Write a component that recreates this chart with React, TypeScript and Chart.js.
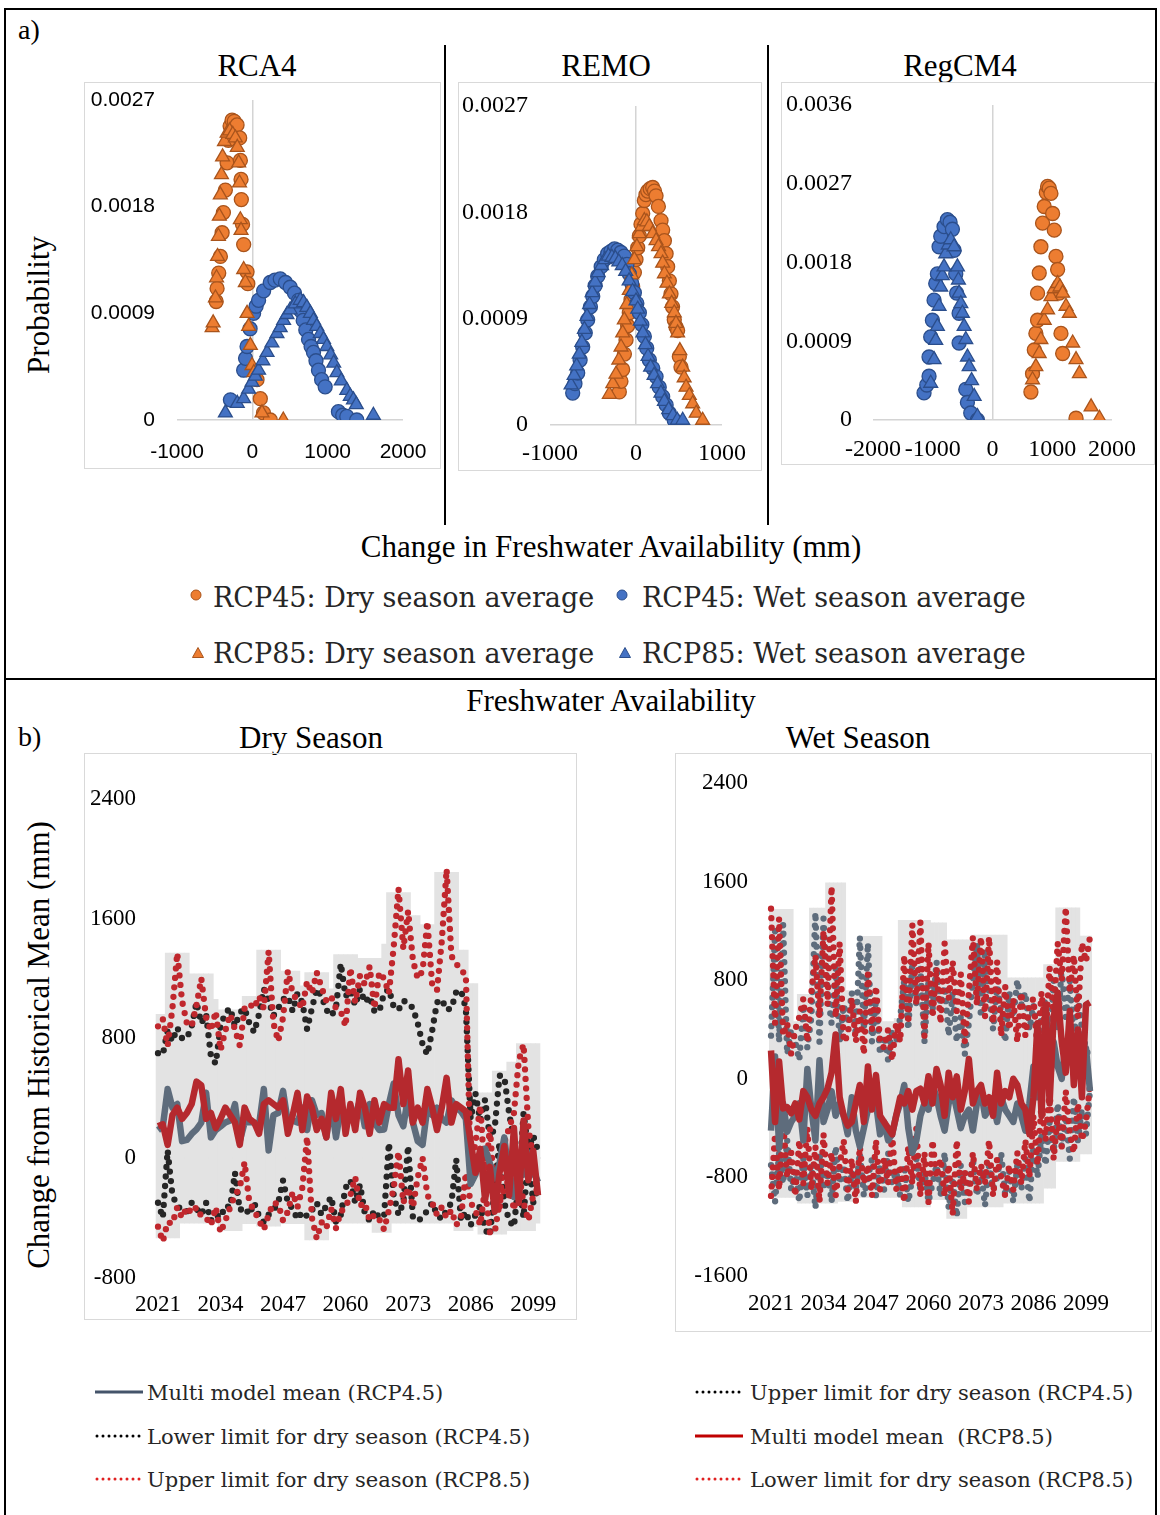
import React, { useEffect, useRef } from 'react';
import { Chart, registerables } from 'chart.js';
Chart.register(...registerables);

const SERIF = '"Liberation Serif", "Times New Roman", serif';
const SANS = '"Liberation Sans", Arial, sans-serif';
const LEG = '"DejaVu Serif", serif';

// ---------- a) probability scatter data: [change (mm), probability] ----------
const rca4Dry45: [number, number][] = [[-480,0.001],[-468,0.00111],[-446,0.00124],[-424,0.00138],[-401,0.00158],[-384,0.00175],[-358,0.00194],[-335,0.00217],[-318,0.00236],[-295,0.00248],[-269,0.00253],[-240,0.00252],[-203,0.00249],[-168,0.00238],[-159,0.00219],[-150,0.00203],[-146,0.00186],[-130,0.00165],[-115,0.00148],[-70,0.00125],[-60,0.00115],[62,0.00034],[106,0.00018],[148,0.00006],[238,0.0]];
const rca4Wet45: [number, number][] = [[-291,0.00017],[-115,0.00042],[-90,0.00052],[-70,0.00062],[-30,0.00077],[17,0.0009],[50,0.00096],[83,0.00101],[150,0.00109],[238,0.00116],[300,0.00118],[371,0.00119],[440,0.00116],[503,0.00112],[560,0.00107],[613,0.00101],[645,0.00092],[675,0.00084],[710,0.00076],[746,0.00068],[780,0.00062],[812,0.00057],[845,0.0005],[878,0.00042],[920,0.00034],[967,0.00028],[1143,0.00007],[1200,0.00004],[1254,0.00003],[1386,0.0]];
const rca4Dry85: [number, number][] = [[-534,0.00078],[-520,0.00082],[-490,0.00103],[-475,0.0012],[-462,0.00138],[-450,0.00155],[-438,0.00172],[-425,0.0019],[-410,0.00207],[-395,0.00222],[-370,0.00235],[-335,0.00242],[-300,0.00244],[-260,0.00241],[-225,0.00238],[-200,0.0023],[-181,0.00217],[-170,0.002],[-159,0.00169],[-150,0.0016],[-115,0.00127],[-93,0.00116],[-70,0.0009],[-49,0.00079],[-26,0.00063],[-4,0.00046],[20,0.0004],[128,0.00006],[411,0.0]];
const rca4Wet85: [number, number][] = [[-358,0.00006],[-200,0.00014],[-115,0.00018],[-50,0.00026],[-4,0.00032],[40,0.00037],[83,0.00042],[140,0.0005],[195,0.00057],[260,0.00065],[327,0.00073],[370,0.00078],[415,0.00084],[460,0.00089],[503,0.00093],[570,0.00098],[636,0.00101],[680,0.00099],[724,0.00095],[770,0.0009],[812,0.00084],[855,0.00079],[901,0.00073],[945,0.00068],[989,0.00062],[1040,0.00055],[1080,0.00048],[1122,0.0004],[1180,0.00033],[1254,0.00025],[1300,0.0002],[1342,0.00017],[1380,0.00013],[1607,0.00004]];

const remoDry45: [number, number][] = [[-194,0.00028],[-175,0.00037],[-155,0.00047],[-135,0.0006],[-116,0.00072],[-97,0.00084],[-78,0.00095],[-58,0.00106],[-39,0.00117],[-19,0.00129],[0,0.0014],[20,0.0015],[39,0.0016],[58,0.0017],[78,0.00179],[97,0.0019],[116,0.00195],[136,0.00198],[165,0.002],[194,0.00201],[215,0.00198],[233,0.00194],[260,0.00185],[291,0.00173],[310,0.00165],[330,0.00156],[350,0.00145],[368,0.00134],[388,0.00122],[407,0.00111],[425,0.001],[445,0.00089],[465,0.00083],[484,0.0008],[504,0.00058],[523,0.00049]];
const remoWet45: [number, number][] = [[-736,0.00027],[-710,0.00035],[-678,0.00044],[-650,0.00055],[-620,0.00066],[-590,0.00078],[-562,0.00089],[-530,0.001],[-503,0.00109],[-475,0.00118],[-445,0.00126],[-405,0.00134],[-368,0.0014],[-330,0.00145],[-291,0.00147],[-250,0.00149],[-213,0.00148],[-175,0.00146],[-136,0.00143],[-105,0.00136],[-78,0.00128],[-50,0.0012],[-19,0.00112],[10,0.00103],[39,0.00095],[68,0.00085],[97,0.00075],[125,0.00065],[155,0.00055],[195,0.00048],[233,0.00041],[270,0.00032],[310,0.00024],[350,0.00017],[388,0.0001],[445,0.00004]];
const remoDry85: [number, number][] = [[-310,0.00026],[-270,0.00035],[-233,0.00043],[-200,0.00055],[-174,0.00066],[-155,0.00078],[-136,0.00089],[-107,0.00102],[-78,0.00114],[-50,0.00127],[-19,0.0014],[10,0.00151],[39,0.00162],[68,0.00168],[97,0.00173],[126,0.00172],[155,0.00168],[194,0.00162],[233,0.00156],[262,0.00151],[291,0.00145],[310,0.00137],[330,0.00128],[360,0.0012],[388,0.00111],[415,0.00103],[445,0.00095],[465,0.00086],[484,0.00078],[510,0.00063],[543,0.00049],[560,0.0004],[582,0.00032],[620,0.00025],[659,0.00018],[700,0.0001],[775,0.00004]];
const remoWet85: [number, number][] = [[-755,0.00034],[-720,0.00042],[-690,0.0005],[-660,0.0006],[-630,0.0007],[-600,0.00081],[-570,0.00092],[-540,0.00102],[-510,0.00112],[-475,0.00121],[-440,0.00129],[-400,0.00135],[-360,0.0014],[-320,0.00143],[-280,0.00142],[-240,0.00141],[-200,0.00138],[-160,0.00135],[-120,0.0013],[-80,0.00122],[-40,0.00113],[0,0.00105],[20,0.00098],[50,0.00088],[80,0.00078],[110,0.00068],[140,0.00058],[170,0.00049],[210,0.00042],[250,0.00035],[290,0.00027],[330,0.0002],[380,0.00013],[430,0.00008],[480,0.00004],[543,0.00004]];

const regDry45: [number, number][] = [[643,0.00032],[670,0.00053],[700,0.0008],[726,0.00099],[754,0.00114],[754,0.00145],[782,0.00168],[810,0.00198],[838,0.00225],[866,0.00244],[900,0.0026],[922,0.00267],[950,0.00265],[978,0.00259],[1006,0.00236],[1034,0.00217],[1062,0.00187],[1090,0.00172],[1118,0.00145],[1146,0.00099],[1174,0.00076],[1398,0.00002]];
const regWet45: [number, number][] = [[-1146,0.00031],[-1100,0.0004],[-1062,0.0005],[-1062,0.00072],[-1034,0.00095],[-1006,0.00114],[-978,0.00137],[-950,0.00156],[-922,0.00167],[-894,0.00198],[-866,0.0021],[-811,0.00221],[-755,0.00229],[-710,0.00226],[-671,0.00218],[-643,0.00194],[-615,0.00167],[-600,0.00145],[-559,0.00122],[-559,0.00088],[-447,0.00035],[-420,0.0002],[-364,0.00008],[-252,0.0]];
const regDry85: [number, number][] = [[670,0.00046],[726,0.00061],[782,0.00076],[810,0.00092],[866,0.00114],[922,0.00126],[978,0.00141],[1034,0.0015],[1090,0.00156],[1130,0.00152],[1174,0.00145],[1230,0.0013],[1286,0.00122],[1342,0.00088],[1398,0.00069],[1454,0.00053],[1650,0.00015],[1790,0.00002]];
const regWet85: [number, number][] = [[-1034,0.00042],[-978,0.00069],[-950,0.00091],[-922,0.00107],[-894,0.0013],[-866,0.00152],[-840,0.00165],[-811,0.00175],[-783,0.0019],[-740,0.002],[-699,0.00206],[-643,0.00198],[-587,0.00175],[-570,0.0016],[-559,0.00145],[-530,0.00133],[-503,0.00122],[-475,0.00107],[-447,0.00092],[-419,0.00072],[-391,0.00061],[-350,0.00045],[-307,0.00027],[-252,0.00004]];

// ---------- b) freshwater availability time series ----------
const years = ['2021','2022','2023','2024','2025','2026','2027','2028','2029','2030','2031','2032','2033','2034','2035','2036','2037','2038','2039','2040','2041','2042','2043','2044','2045','2046','2047','2048','2049','2050','2051','2052','2053','2054','2055','2056','2057','2058','2059','2060','2061','2062','2063','2064','2065','2066','2067','2068','2069','2070','2071','2072','2073','2074','2075','2076','2077','2078','2079','2080','2081','2082','2083','2084','2085','2086','2087','2088','2089','2090','2091','2092','2093','2094','2095','2096','2097','2098','2099','2100'];

const dryHi = [960,960,1370,1370,1370,1370,1370,1230,1230,1230,1230,1230,1060,990,990,990,990,990,1080,1080,1080,1390,1390,1390,1390,1390,1250,1250,1250,1250,1150,1240,1240,1240,1240,1240,1130,1360,1360,1360,1360,1360,1335,1335,1335,1335,1335,1430,1775,1775,1775,1775,1775,1620,1620,1560,1560,1560,1910,1910,1910,1910,1910,1390,1390,1165,1165,435,435,435,580,580,580,640,640,765,765,765,765,765];
const dryLo = [-535,-535,-535,-535,-535,-436,-436,-436,-436,-436,-436,-436,-436,-486,-486,-486,-486,-486,-440,-440,-440,-456,-456,-456,-456,-456,-440,-440,-440,-440,-440,-548,-548,-548,-548,-548,-436,-436,-436,-436,-436,-436,-436,-436,-436,-498,-498,-498,-498,-436,-436,-436,-436,-436,-436,-436,-436,-436,-436,-436,-436,-436,-486,-486,-486,-486,-460,-510,-510,-510,-510,-510,-510,-486,-486,-486,-486,-486,-486,-436];
const dryMean45 = [186,211,460,336,360,112,120,160,190,236,435,137,186,210,236,250,360,112,236,240,236,220,460,50,286,300,448,236,250,236,336,186,385,286,300,137,360,137,336,236,260,286,385,211,360,236,186,190,360,497,286,211,410,236,112,87,336,286,336,261,236,385,336,311,261,-175,-112,12,62,-37,-137,-37,137,-137,-262,-12,-112,37,-87,-162];
const dryMean85 = [211,224,87,286,336,261,300,360,510,485,261,300,199,261,336,286,236,87,336,261,236,161,360,385,360,336,385,161,286,435,186,410,336,186,261,137,435,261,460,161,360,186,435,336,161,385,236,360,336,336,659,360,584,236,336,236,460,336,186,336,535,236,360,336,311,112,-100,60,-280,-60,-360,-100,80,-250,200,-300,250,-150,50,-250];
const dryUp45 = [700,690,850,780,870,800,800,880,1040,900,960,680,630,880,970,1000,880,970,1000,900,840,960,1130,1050,950,1000,1060,1080,980,1100,1040,860,1000,1130,1080,990,950,1000,1300,1080,1120,1020,1130,1040,1080,980,980,1100,1130,1010,990,1050,1040,1000,900,760,690,850,1040,1060,990,1000,1110,1120,1000,260,430,250,390,130,200,550,540,300,100,-200,300,50,150,50];
const dryLo45 = [-300,-400,50,-250,-320,-350,-360,-300,-340,-380,-300,-420,-380,-400,-320,-330,-100,-350,-330,-380,-300,-390,-430,-380,-350,-300,-150,-300,-340,-410,-360,-390,-350,-300,-380,-320,-260,-430,-380,-200,-150,-300,-180,-370,-420,-350,-400,-390,100,-250,-380,-300,80,-400,-420,-400,-350,-300,-380,-410,-350,-300,-10,-420,-360,-450,-380,-320,-480,-520,-200,100,-300,-420,-460,-150,-400,50,-300,-200];
const dryUp85 = [880,930,750,1000,1370,1050,900,880,1020,1200,940,850,980,720,850,960,860,750,1000,1030,1000,1080,1000,1380,900,780,940,1250,1100,1050,1000,1180,1100,1240,1140,1050,1080,1000,980,880,1270,1040,1220,1160,1280,1000,1240,1200,1100,1410,1800,1400,1650,1320,1200,1250,1580,1160,1120,1450,1930,1350,1300,1250,1230,-100,100,350,-150,200,-250,-350,100,200,300,650,760,200,0,-280];
const dryLo85 = [-460,-560,-430,-440,-330,-400,-330,-370,-330,-390,-400,-450,-330,-500,-420,-330,-250,-200,-30,-300,-350,-420,-480,-380,-300,-310,-420,-360,-230,-330,-200,140,-400,-540,-430,-470,-340,-470,-360,-330,-250,-130,-320,-300,-420,-380,-410,-480,-350,-200,40,-300,-200,-330,-130,0,-250,-300,-380,-330,-400,-350,-450,-400,-100,-300,-350,-450,-200,-500,-500,-300,-200,-150,-350,-100,-300,-420,-250,-200];

const wetHi = [1375,1375,1375,1375,1375,1375,465,685,685,685,1385,1385,1385,1385,1590,1590,1590,1590,1590,715,715,715,1155,1155,1155,1155,1155,1155,465,465,465,490,1285,1285,1285,1285,1285,1285,1285,1285,1265,1265,1265,1265,1127,1127,1127,1127,1127,1127,1167,1167,1167,1167,1167,1167,1167,1167,1167,820,820,820,820,820,820,820,820,820,927,927,927,1388,1388,1388,1388,1388,1388,1158,1158,1158];
const wetLo = [-963,-963,-963,-963,-963,-963,-963,-1010,-1010,-1010,-1010,-1010,-1010,-1010,-1010,-1010,-1010,-995,-995,-995,-995,-995,-963,-963,-963,-963,-963,-963,-963,-963,-963,-963,-963,-1040,-1040,-1040,-1040,-1040,-1040,-1040,-980,-980,-980,-980,-1132,-1132,-1132,-1132,-1132,-1040,-1040,-1040,-1040,-1040,-1040,-1040,-1040,-1040,-1010,-1010,-1010,-1010,-1010,-1010,-1010,-1010,-1010,-1010,-887,-887,-887,-671,-671,-671,-671,-671,-671,-610,-610,-610];
const wetMean45 = [-420,180,-560,-200,-430,-350,-300,-200,-500,80,-250,-500,150,-350,-250,-100,-300,-200,-300,-450,-150,-420,-550,-400,-250,-120,-200,-450,-350,-500,-450,-300,-200,-50,-400,-600,-500,-300,-200,-250,-50,-150,-300,-420,-200,-100,-250,-400,-300,-250,-420,-200,-100,-300,-250,-200,-350,-150,-250,-300,-350,-200,-300,-420,-200,100,-150,150,250,-50,300,100,0,300,200,350,100,0,250,-100];
const wetMean85 = [230,-350,140,-240,-230,-280,-200,-330,-100,-150,-250,-300,-200,-150,-80,50,360,-150,-300,-380,-350,-200,-50,-350,100,-250,30,-300,-350,-400,-450,-300,-150,-200,-100,-250,-100,-80,-200,20,-200,80,-50,-300,50,-150,20,-250,-100,160,-200,-100,-50,-200,-150,-300,50,-200,-100,-150,0,-50,-200,-250,-450,-150,450,-300,600,-200,500,700,300,50,550,-50,400,-150,600,620];
const wetUp45 = [350,1200,300,1250,200,400,300,150,600,250,500,1350,300,1300,700,450,900,300,600,450,700,350,1150,400,1100,300,650,200,350,150,400,300,500,800,400,950,600,900,300,800,550,950,600,750,350,700,300,500,200,450,800,1100,500,1050,700,400,750,550,300,700,500,800,600,700,400,600,300,500,650,200,800,400,900,500,800,300,700,400,250,150];
const wetLo45 = [-700,-1000,-600,-850,-500,-900,-750,-1000,-650,-950,-700,-1050,-600,-900,-750,-1000,-550,-850,-700,-1000,-750,-900,-600,-950,-800,-650,-950,-700,-900,-600,-850,-750,-950,-700,-1000,-800,-650,-900,-750,-1000,-850,-700,-950,-600,-1050,-800,-1120,-700,-1000,-850,-650,-950,-750,-1030,-700,-900,-800,-600,-950,-750,-1000,-700,-900,-650,-1000,-550,-800,-450,-700,-350,-600,-200,-550,-300,-650,-150,-500,-250,-450,-100];
const wetUp85 = [1380,450,1300,350,450,200,400,500,650,300,700,1000,500,1200,600,1560,500,1100,300,350,650,300,550,200,850,400,750,300,250,400,150,450,300,1000,450,1250,600,1270,350,1100,500,900,450,1100,650,950,550,850,300,700,1150,600,1150,500,1150,450,950,350,750,400,650,300,700,350,600,650,250,700,350,900,500,1100,800,1390,700,1000,500,1100,950,1150];
const wetLo85 = [-950,-450,-900,-350,-800,-600,-950,-500,-850,-400,-900,-550,-1000,-450,-850,-600,-950,-700,-500,-900,-650,-1000,-550,-850,-700,-950,-500,-900,-650,-850,-450,-900,-700,-1000,-550,-850,-400,-950,-600,-1000,-500,-800,-650,-950,-700,-1100,-500,-900,-750,-1000,-600,-900,-700,-850,-500,-950,-650,-800,-950,-700,-900,-600,-850,-500,-800,-300,-700,-200,-500,-100,-650,-300,-550,-100,-450,-600,-200,-500,-350,-50];

// ---------- colours ----------
const ORANGE = '#ED7D31', ORANGE_EDGE = '#A9541C', BLUE = '#4472C4', BLUE_EDGE = '#2B4E8C';
const SLATE = '#5E6C7C', RED = '#B5292E', DOT_RED = '#C0272D', DOT_BLACK = '#262626', BAR = '#E3E3E3';
const GRID = '#D4D4D4';
const transparent = 'rgba(0,0,0,0)';

type Pts = [number, number][];
const toXY = (a: Pts) => a.map(([x, y]) => ({ x, y }));

function scatterSet(data: Pts, style: string, fill: string, edge: string, order: number) {
  return {
    data: toXY(data), pointStyle: style, pointRadius: style === 'triangle' ? 8 : 7,
    backgroundColor: fill, borderColor: edge, borderWidth: 1.3, showLine: false, order,
  };
}

// tick gaps are made with invisible tick marks (tickLength) so they do not add layout padding
function scatterConfig(p: any) {
  const font = { family: p.family, size: p.size };
  return {
    type: 'scatter',
    data: {
      datasets: [
        scatterSet(p.wet85, 'triangle', BLUE, BLUE_EDGE, 1),
        scatterSet(p.dry85, 'triangle', ORANGE, ORANGE_EDGE, 2),
        scatterSet(p.wet45, 'circle', BLUE, BLUE_EDGE, 3),
        scatterSet(p.dry45, 'circle', ORANGE, ORANGE_EDGE, 4),
      ],
    },
    options: {
      responsive: false, animation: false, devicePixelRatio: 1,
      layout: { padding: { top: p.padTop, right: p.padRight, left: 0, bottom: 0 }, autoPadding: false },
      plugins: { legend: { display: false }, tooltip: { enabled: false } },
      scales: {
        x: {
          type: 'linear', min: p.xmin, max: p.xmax,
          afterFit: (s: any) => { s.height = p.xH; },
          border: { display: false },
          grid: { drawTicks: true, tickLength: p.xPad, tickColor: transparent, lineWidth: 1.5, color: (c: any) => (c.tick && c.tick.value === 0 ? GRID : transparent) },
          ticks: { stepSize: 1000, autoSkip: false, maxRotation: 0, minRotation: 0, color: '#000', font, padding: 0, callback: (v: any) => String(v) },
        },
        y: {
          type: 'linear', min: 0, max: p.ymax,
          afterFit: (s: any) => { s.width = p.yW; },
          border: { display: false },
          grid: { drawTicks: true, tickLength: p.yPad, tickColor: transparent, lineWidth: 1.5, color: (c: any) => (c.tick && c.tick.value === 0 ? GRID : transparent) },
          ticks: { stepSize: 0.0009, color: '#000', font, padding: 0, callback: (v: any) => (Math.abs(v) < 1e-9 ? '0' : Number(v).toFixed(4)) },
        },
      },
    },
  };
}

function dotted(data: number[], color: string, order: number) {
  return { type: 'line', data, borderColor: color, borderWidth: 6.3, borderDash: [0, 9.5], borderCapStyle: 'round', pointRadius: 0, tension: 0, fill: false, order };
}

function seriesConfig(p: any) {
  const font = { family: SERIF, size: 23 };
  return {
    type: 'bar',
    data: {
      labels: years,
      datasets: [
        { type: 'line', data: p.mean85, borderColor: RED, borderWidth: 6.5, pointRadius: 0, tension: 0, fill: false, order: 1, borderJoinStyle: 'round' },
        { type: 'line', data: p.mean45, borderColor: SLATE, borderWidth: 6.5, pointRadius: 0, tension: 0, fill: false, order: 2, borderJoinStyle: 'round' },
        dotted(p.up85, DOT_RED, 3),
        dotted(p.lo85, DOT_RED, 4),
        dotted(p.up45, p.c45, 5),
        dotted(p.lo45, p.c45, 6),
        { type: 'bar', data: p.hi.map((h: number, i: number) => [p.lo[i], h]), backgroundColor: BAR, borderWidth: 0, barPercentage: 1, categoryPercentage: 1, order: 10 },
      ],
    },
    options: {
      responsive: false, animation: false, devicePixelRatio: 1,
      layout: { padding: { top: p.padTop, right: p.padRight, left: 0, bottom: 0 }, autoPadding: false },
      plugins: { legend: { display: false }, tooltip: { enabled: false } },
      scales: {
        x: {
          type: 'category', offset: true,
          afterFit: (s: any) => { s.height = p.xH; },
          border: { display: false }, grid: { display: false, drawTicks: false },
          ticks: { autoSkip: false, maxRotation: 0, minRotation: 0, color: '#000', font, padding: p.xPad, callback: (_v: any, i: number) => (i % 13 === 0 ? years[i] : '') },
        },
        y: {
          type: 'linear', min: p.ymin, max: 2400,
          afterFit: (s: any) => { s.width = p.yW; },
          border: { display: false },
          grid: { drawTicks: true, tickLength: p.yPad, tickColor: transparent, lineWidth: 2, color: (c: any) => (c.tick && c.tick.value === 0 ? '#CFCFCF' : transparent) },
          ticks: { stepSize: 800, color: '#000', font, padding: 0, callback: (v: any) => String(v) },
        },
      },
    },
  };
}

function ChartBox({ left, top, width, height, make }: { left: number; top: number; width: number; height: number; make: () => any }) {
  const ref = useRef<HTMLCanvasElement>(null);
  useEffect(() => {
    const chart = new Chart(ref.current as HTMLCanvasElement, make());
    return () => chart.destroy();
  }, []);
  return (
    <>
      <canvas ref={ref} width={width} height={height} style={{ position: 'absolute', left, top, width, height, display: 'block' }} />
      <div style={{ position: 'absolute', left, top, width, height, border: '1px solid #D9D9D9', boxSizing: 'border-box', pointerEvents: 'none' }} />
    </>
  );
}

function T({ x, y, size, children, font = SERIF, align = 'center', rot = 0, color = '#000' }: any) {
  const tx = align === 'center' ? '-50%' : '0';
  return (
    <div style={{ position: 'absolute', left: x, top: y, transform: `translate(${tx}, -50%) rotate(${rot}deg)`, fontFamily: font, fontSize: size, color, whiteSpace: 'pre', lineHeight: 1 }}>
      {children}
    </div>
  );
}

function Marker({ x, y, shape, fill, edge }: any) {
  return (
    <svg style={{ position: 'absolute', left: x - 8, top: y - 8 }} width={16} height={16}>
      {shape === 'circle'
        ? <circle cx={8} cy={8} r={5} fill={fill} stroke={edge} strokeWidth={1} />
        : <polygon points="8,2.5 13.5,12.5 2.5,12.5" fill={fill} stroke={edge} strokeWidth={1} />}
    </svg>
  );
}

function LineSample({ x, y, color, dotted: isDot }: any) {
  return (
    <svg style={{ position: 'absolute', left: x, top: y - 4 }} width={50} height={8}>
      {isDot
        ? <line x1={2} y1={4} x2={48} y2={4} stroke={color} strokeWidth={3} strokeDasharray="0 6" strokeLinecap="round" />
        : <line x1={0} y1={4} x2={48} y2={4} stroke={color} strokeWidth={3} />}
    </svg>
  );
}

export default function App() {
  return (
    <div style={{ position: 'absolute', left: 0, top: 0, width: 1160, height: 1515, background: '#fff', overflow: 'hidden' }}>
      {/* frame */}
      <div style={{ position: 'absolute', left: 4, top: 8, width: 1153, height: 1520, borderTop: '2px solid #000', borderLeft: '2px solid #000', borderRight: '2px solid #000', boxSizing: 'border-box' }} />
      <div style={{ position: 'absolute', left: 4, top: 678, width: 1153, height: 2, background: '#000' }} />
      <div style={{ position: 'absolute', left: 444, top: 45, width: 2, height: 480, background: '#000' }} />
      <div style={{ position: 'absolute', left: 767, top: 45, width: 2, height: 480, background: '#000' }} />

      {/* a) */}
      <T x={18} y={30} size={28} align="left">a)</T>
      <T x={257} y={65} size={31}>RCA4</T>
      <T x={606} y={65} size={31}>REMO</T>
      <T x={960} y={65} size={31}>RegCM4</T>
      <T x={38} y={305} size={31} rot={-90}>Probability</T>

      <ChartBox left={84} top={82} width={357} height={387} make={() => scatterConfig({
        dry45: rca4Dry45, wet45: rca4Wet45, dry85: rca4Dry85, wet85: rca4Wet85,
        xmin: -1000, xmax: 2000, ymax: 0.0027, family: SANS, size: 21,
        yW: 93, yPad: 22, xH: 49, xPad: 20, padTop: 18, padRight: 38,
      })} />
      <ChartBox left={458} top={82} width={304} height={389} make={() => scatterConfig({
        dry45: remoDry45, wet45: remoWet45, dry85: remoDry85, wet85: remoWet85,
        xmin: -1000, xmax: 1000, ymax: 0.0027, family: SERIF, size: 24,
        yW: 92, yPad: 22, xH: 46, xPad: 14, padTop: 24, padRight: 40,
      })} />
      <ChartBox left={781} top={82} width={374} height={383} make={() => scatterConfig({
        dry45: regDry45, wet45: regWet45, dry85: regDry85, wet85: regWet85,
        xmin: -2000, xmax: 2000, ymax: 0.0036, family: SERIF, size: 24,
        yW: 92, yPad: 21, xH: 45, xPad: 15, padTop: 23, padRight: 43,
      })} />

      <T x={611} y={546} size={31}>Change in Freshwater Availability (mm)</T>
      <Marker x={196} y={595} shape="circle" fill={ORANGE} edge={ORANGE_EDGE} />
      <T x={213} y={597} size={27} font={LEG} align="left" color="#262626">RCP45: Dry season average</T>
      <Marker x={622} y={595} shape="circle" fill={BLUE} edge={BLUE_EDGE} />
      <T x={642} y={597} size={27} font={LEG} align="left" color="#262626">RCP45: Wet season average</T>
      <Marker x={198} y={653} shape="triangle" fill={ORANGE} edge={ORANGE_EDGE} />
      <T x={213} y={653} size={27} font={LEG} align="left" color="#262626">RCP85: Dry season average</T>
      <Marker x={625} y={653} shape="triangle" fill={BLUE} edge={BLUE_EDGE} />
      <T x={642} y={653} size={27} font={LEG} align="left" color="#262626">RCP85: Wet season average</T>

      {/* b) */}
      <T x={611} y={700} size={31}>Freshwater Availability</T>
      <T x={18} y={737} size={28} align="left">b)</T>
      <T x={311} y={737} size={31}>Dry Season</T>
      <T x={858} y={737} size={31}>Wet Season</T>
      <T x={38} y={1045} size={31} rot={-90}>Change from Historical Mean (mm)</T>

      <ChartBox left={84} top={753} width={493} height={567} make={() => seriesConfig({
        hi: dryHi, lo: dryLo, mean45: dryMean45, mean85: dryMean85, up45: dryUp45, lo45: dryLo45, up85: dryUp85, lo85: dryLo85,
        c45: DOT_BLACK, ymin: -800, yW: 71.6, yPad: 19.6, xH: 42.5, xPad: 14, padTop: 46, padRight: 36.6,
      })} />
      <ChartBox left={675} top={753} width={477} height={579} make={() => seriesConfig({
        hi: wetHi, lo: wetLo, mean45: wetMean45, mean85: wetMean85, up45: wetUp45, lo45: wetLo45, up85: wetUp85, lo85: wetLo85,
        c45: SLATE, ymin: -1600, yW: 94, yPad: 21, xH: 56, xPad: 14, padTop: 30, padRight: 60,
      })} />

      <LineSample x={95} y={1392} color="#44546A" />
      <T x={147} y={1393} size={21} font={LEG} align="left" color="#262626">Multi model mean (RCP4.5)</T>
      <LineSample x={95} y={1436} color="#000" dotted />
      <T x={147} y={1437} size={21} font={LEG} align="left" color="#262626">Lower limit for dry season (RCP4.5)</T>
      <LineSample x={95} y={1479} color="#E02020" dotted />
      <T x={147} y={1480} size={21} font={LEG} align="left" color="#262626">Upper limit for dry season (RCP8.5)</T>

      <LineSample x={695} y={1392} color="#000" dotted />
      <T x={750} y={1393} size={21} font={LEG} align="left" color="#262626">Upper limit for dry season (RCP4.5)</T>
      <LineSample x={695} y={1436} color="#C00000" />
      <T x={750} y={1437} size={21} font={LEG} align="left" color="#262626">Multi model mean  (RCP8.5)</T>
      <LineSample x={695} y={1479} color="#E02020" dotted />
      <T x={750} y={1480} size={21} font={LEG} align="left" color="#262626">Lower limit for dry season (RCP8.5)</T>
    </div>
  );
}
